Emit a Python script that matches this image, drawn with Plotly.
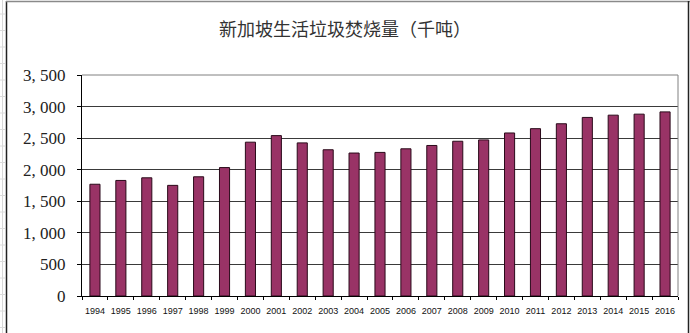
import plotly.graph_objects as go

# Singapore household waste incinerated, thousand tonnes
years = [str(y) for y in range(1994, 2017)]
incinerated = [1770, 1830, 1872, 1752, 1888, 2034, 2436, 2540, 2425, 2316,
               2264, 2274, 2331, 2384, 2451, 2472, 2582, 2650, 2728, 2828,
               2864, 2880, 2916]
y_ticks = [0, 500, 1000, 1500, 2000, 2500, 3000, 3500]
y_tick_labels = [f"{v:,}".replace(",", ", ") for v in y_ticks]
title_text = "新加坡生活垃圾焚烧量（千吨）"

W, H = 690, 333
L, R, T, B = 82, 12, 75, 37
pw, ph = W - L - R, H - T - B


def px_x(p):
    return (p - L) / pw


def px_y(p):
    return (H - B - p) / ph


fig = go.Figure(
    go.Bar(
        x=years,
        y=incinerated,
        marker=dict(color="#993366", line=dict(color="#2a0a1a", width=1)),
    )
)

shapes = []
# spreadsheet strip behind the chart object
shapes.append(dict(type="line", xref="paper", yref="paper",
                   x0=px_x(2.5), x1=px_x(2.5), y0=px_y(0), y1=px_y(H),
                   line=dict(color="#d8d8d8", width=1), layer="below"))
r = 14
while r < H:
    shapes.append(dict(type="line", xref="paper", yref="paper",
                       x0=px_x(0), x1=px_x(5), y0=px_y(r), y1=px_y(r),
                       line=dict(color="#dcdcdc", width=1), layer="below"))
    r += 16.5
# chart object frame
shapes.append(dict(type="line", xref="paper", yref="paper",
                   x0=px_x(6.5), x1=px_x(6.5), y0=px_y(1), y1=px_y(H + 5),
                   line=dict(color="#222222", width=1.5)))
shapes.append(dict(type="line", xref="paper", yref="paper",
                   x0=px_x(6), x1=px_x(W), y0=px_y(1.5), y1=px_y(1.5),
                   line=dict(color="#8a8a8a", width=1.5)))
shapes.append(dict(type="line", xref="paper", yref="paper",
                   x0=px_x(688.5), x1=px_x(688.5), y0=px_y(1), y1=px_y(H + 5),
                   line=dict(color="#222222", width=1.5)))
# plot area frame (top and right)
shapes.append(dict(type="line", xref="paper", yref="paper",
                   x0=0, x1=1, y0=1, y1=1,
                   line=dict(color="#808080", width=1)))
shapes.append(dict(type="line", xref="paper", yref="paper",
                   x0=1, x1=1, y0=0, y1=1,
                   line=dict(color="#808080", width=1)))

fig.update_layout(
    width=W,
    height=H,
    margin=dict(l=L, r=R, t=T, b=B, pad=0),
    paper_bgcolor="white",
    plot_bgcolor="white",
    bargap=0.61,
    showlegend=False,
    title=dict(
        text=title_text,
        x=(345) / W,
        xanchor="center",
        y=1 - 30 / H,
        yanchor="middle",
        font=dict(family="Noto Sans CJK SC", size=18, color="#333333"),
    ),
    shapes=shapes,
    xaxis=dict(
        type="category",
        showline=True,
        linecolor="#000000",
        linewidth=1,
        ticks="outside",
        tickson="boundaries",
        ticklen=3,
        tickcolor="#000000",
        showgrid=False,
        tickangle=0,
        tickfont=dict(family="Liberation Sans", size=9, color="#111111"),
        ticklabelstandoff=6,
    ),
    yaxis=dict(
        range=[0, 3500],
        tickvals=y_ticks,
        ticktext=y_tick_labels,
        showline=True,
        linecolor="#000000",
        linewidth=1,
        ticks="outside",
        ticklen=4,
        tickcolor="#000000",
        showgrid=True,
        gridcolor="#3a3a3a",
        gridwidth=1,
        zeroline=False,
        tickfont=dict(family="Liberation Serif", size=17, color="#222222"),
        ticklabelstandoff=8,
    ),
)

fig.write_html("out.html")
